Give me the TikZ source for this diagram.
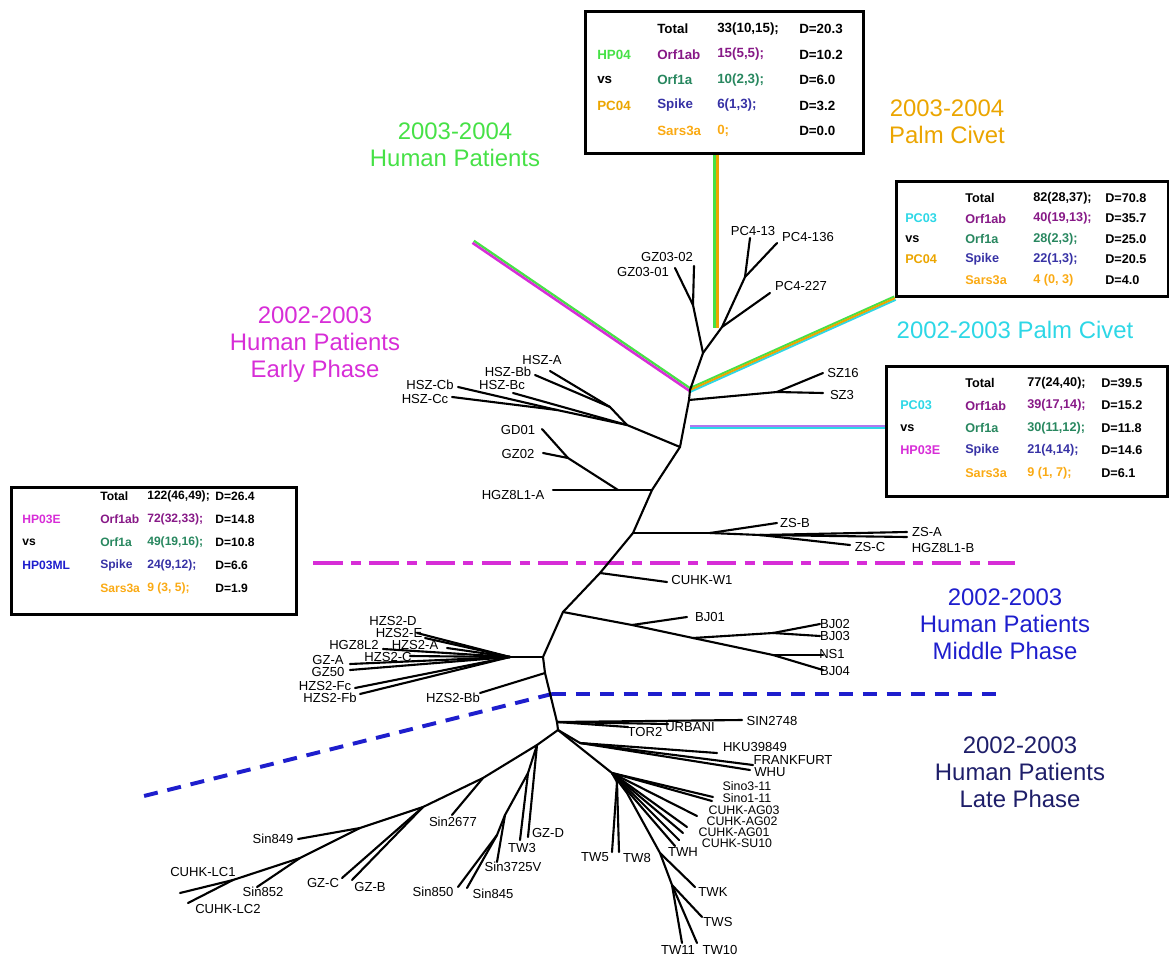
\documentclass[tikz,border=0pt]{standalone}
\usepackage{fontspec}
\setmainfont{Liberation Sans}
\usetikzlibrary{calc}

\definecolor{hpgreen}{RGB}{70,225,70}
\definecolor{pcorange}{RGB}{235,165,0}
\definecolor{pccyan}{RGB}{45,215,230}
\definecolor{earlymag}{RGB}{215,45,215}
\definecolor{midblue}{RGB}{30,30,205}
\definecolor{latenavy}{RGB}{30,30,105}
\definecolor{orfpurple}{RGB}{135,25,135}
\definecolor{orfteal}{RGB}{40,135,95}
\definecolor{spikeblue}{RGB}{55,50,165}
\definecolor{sarsorange}{RGB}{250,170,20}
\definecolor{lavender}{RGB}{175,120,240}
\colorlet{row0}{black}
\colorlet{row1}{orfpurple}
\colorlet{row2}{orfteal}
\colorlet{row3}{spikeblue}
\colorlet{row4}{sarsorange}

\tikzset{
  branch/.style={line width=1.5pt, line cap=round, line join=round},
  leaf/.style={font=\fontsize{9.3}{10}\selectfont, inner sep=0pt},
  tabbox/.style={draw, line width=2.2pt, anchor=north west, inner sep=0pt},
  cell/.style={anchor=west, inner sep=0pt, font=\bfseries\fontsize{9}{10}\selectfont},
  region/.style={align=center, font=\fontsize{17}{19.2}\selectfont},
}

\begin{document}
\begin{tikzpicture}[x=0.025cm, y=-0.025cm]
\useasboundingbox (0,0) rectangle (1169,958);

% comparison tables
\node[tabbox, minimum width=6.95cm, minimum height=3.55cm] (tabTop) at (584,10) {};
\node[tabbox, minimum width=6.8cm, minimum height=2.875cm] (tabPC) at (895,180) {};
\node[tabbox, minimum width=7.025cm, minimum height=3.25cm] (tabHP) at (885,365) {};
\node[tabbox, minimum width=7.125cm, minimum height=3.175cm] (tabML) at (10,486) {};

\begin{scope}[shift={(584,10)}, cell/.append style={font=\bfseries\fontsize{9.5}{10}\selectfont}]
\foreach \lab/\lc/\gene/\val/\dv [count=\i from 0] in {
  {}/black/Total/{33(10,15);}/20.3,
  HP04/hpgreen/Orf1ab/{15(5,5);}/10.2,
  vs/black/Orf1a/{10(2,3);}/6.0,
  PC04/pcorange/Spike/{6(1,3);}/3.2,
  {}/black/Sars3a/{0;}/0.0}{
  \node[cell, text=\lc] (tA\i) at (13,{19+25.5*\i}) {\lab};
  \node[cell, text=row\i] (tB\i) at (73,{19+25.5*\i}) {\gene};
  \node[cell, text=row\i] (tC\i) at (133,{19+25.5*\i}) {\val};
  \node[cell] (tD\i) at (215,{19+25.5*\i}) {D=\dv};
}
\end{scope}

\begin{scope}[shift={(895,180)}]
\foreach \lab/\lc/\gene/\val/\dv [count=\i from 0] in {
  {}/black/Total/{82(28,37);}/70.8,
  PC03/pccyan/Orf1ab/{40(19,13);}/35.7,
  vs/black/Orf1a/{28(2,3);}/25.0,
  PC04/pcorange/Spike/{22(1,3);}/20.5,
  {}/black/Sars3a/{4 (0, 3)}/4.0}{
  \node[cell, text=\lc] (pA\i) at (10,{18+20.5*\i}) {\lab};
  \node[cell, text=row\i] (pB\i) at (70,{18+20.5*\i}) {\gene};
  \node[cell, text=row\i] (pC\i) at (138,{18+20.5*\i}) {\val};
  \node[cell] (pD\i) at (210,{18+20.5*\i}) {D=\dv};
}
\end{scope}

\begin{scope}[shift={(885,365)}]
\foreach \lab/\lc/\gene/\val/\dv [count=\i from 0] in {
  {}/black/Total/{77(24,40);}/39.5,
  PC03/pccyan/Orf1ab/{39(17,14);}/15.2,
  vs/black/Orf1a/{30(11,12);}/11.8,
  HP03E/earlymag/Spike/{21(4,14);}/14.6,
  {}/black/Sars3a/{9 (1, 7);}/6.1}{
  \node[cell, text=\lc] (hA\i) at (15,{18+22.5*\i}) {\lab};
  \node[cell, text=row\i] (hB\i) at (80,{18+22.5*\i}) {\gene};
  \node[cell, text=row\i] (hC\i) at (142,{18+22.5*\i}) {\val};
  \node[cell] (hD\i) at (216,{18+22.5*\i}) {D=\dv};
}
\end{scope}

\begin{scope}[shift={(10,486)}, cell/.append style={font=\bfseries\fontsize{8.6}{10}\selectfont}]
\foreach \lab/\lc/\gene/\val/\dv [count=\i from 0] in {
  {}/black/Total/{122(46,49);}/26.4,
  HP03E/earlymag/Orf1ab/{72(32,33);}/14.8,
  vs/black/Orf1a/{49(19,16);}/10.8,
  HP03ML/midblue/Spike/{24(9,12);}/6.6,
  {}/black/Sars3a/{9 (3, 5);}/1.9}{
  \node[cell, text=\lc] (mA\i) at (12,{10+23*\i}) {\lab};
  \node[cell, text=row\i] (mB\i) at (90,{10+23*\i}) {\gene};
  \node[cell, text=row\i] (mC\i) at (137,{10+23*\i}) {\val};
  \node[cell] (mD\i) at (205,{10+23*\i}) {D=\dv};
}
\end{scope}

% group labels
\node[region, text=hpgreen] (lbHP04) at (455,145) {2003-2004\\Human Patients};
\node[region, text=pcorange] (lbPC04) at (947,122) {2003-2004\\Palm Civet};
\node[region, text=earlymag] (lbEarly) at (315,345) {2002-2003\\Human Patients\\Early Phase};
\node[region, text=pccyan] (lbPC03) at (1015,330) {2002-2003 Palm Civet};
\node[region, text=midblue] (lbMid) at (1005,624) {2002-2003\\Human Patients\\Middle Phase};
\node[region, text=latenavy] (lbLate) at (1020,772) {2002-2003\\Human Patients\\Late Phase};

% tree points
\foreach \n/\x/\y in {u1/703/353, r1/690/390, s0/689/400, gz/693/305, pc/722/327, pcn/745/277,
  sz/777/392, b1/680/447, hsz/627/425, hsa/610/407, hsc/557/410, b2/652/490, g1/618/490,
  g2/568/458, b3/633/533, z1/710/533, z2/760/535, b4/600/573, b5/563/612, j1/632/625,
  j2/693/638, j3/773/633, j4/773/655, b6/543/657, h0/510/657, b7/545/673, b8/557/722,
  b9/558/730, k1/580/743, t0/612/773, t1/617/782, t2/627/793, t3/660/853, t4/672/885,
  l0/537/745, l1/483/778, l2/423/807, l3/360/828, l4/300/858, l5/233/880, m1/528/773,
  m2/505/815, m3/497/835}
  \coordinate (\n) at (\x,\y);
\foreach \n/\x/\y in {eGZa/694/266, eGZb/675/268, ePCa/750/238, ePCb/777/243, ePCc/770/293,
  eSZa/823/373, eSZb/823/393, eHSa/550/371, eHSb/535/375, eHSc/513/393, eHSd/458/387,
  eHSe/452/397, eGD/542/429, eGZ02/543/453, eHGa/553/490, eZSb/777/523, eZSc/850/545,
  eZSa/907/532, eHGb/907/537, eW1/667/582, eBJa/687/617, eBJb/820/624, eBJc/820/636,
  eNS/823/655, eBJd/823/670, eHa/417/633, eHb/425/638, eHc/447/648, eHd/383/649,
  eHe/410/656, eHf/350/664, eHg/350/670, eHh/355/688, eHi/360/694, eBb/480/693,
  eSIN/742/720, eTOR/628/727, eURB/668/724, eHKU/717/753, eFRA/753/765, eWHU/750/770,
  eSa/713/797, eSb/712/801, eAGc/697/816, eAGb/687/827, eAGa/683/833, eSU/679/840,
  eTWH/675/846, eTW5/612/852, eTW8/619/852, eTWK/695/887, eTWS/702/917, eTW11/682/943,
  eTW10/697/943, eGZD/528/837, eTW3/520/840, eS37/497/862, eS850/458/887, eS845/467/888,
  eS26/452/815, eGZC/342/878, eGZB/352/880, eS849/298/839, eS852/257/887, eLC1/180/893,
  eLC2/188/903}
  \coordinate (\n) at (\x,\y);
\coordinate (ee) at (473,242);
\coordinate (vt) at (716,328);
\coordinate (vtop) at (tabTop.south -| vt);
\coordinate (lv) at (690,427);
\coordinate (mdl) at (313,563);
\coordinate (mdr) at (1015,563);
\coordinate (bdl) at (552,694);
\coordinate (bdr) at (1005,694);
\coordinate (bds) at (140,797);

% coloured group lines
\draw[hpgreen, line width=1.8pt] ([xshift=-1pt]vtop) -- ([xshift=-1pt]vt);
\draw[pcorange, line width=1.8pt] ([xshift=1pt]vtop) -- ([xshift=1pt]vt);
\draw[hpgreen, line width=1.6pt] ([shift={(0.6pt,0.9pt)}]ee) -- ([shift={(0.6pt,0.9pt)}]r1);
\draw[earlymag, line width=1.8pt] ([shift={(-0.4pt,-0.6pt)}]ee) -- ([shift={(-0.4pt,-0.6pt)}]r1);
\draw[hpgreen, line width=1.4pt] ([shift={(-0.5pt,1.2pt)}]r1) -- ([shift={(-0.5pt,1.2pt)}]tabPC.south west);
\draw[pccyan, line width=1.4pt] ([shift={(0.5pt,-1.2pt)}]r1) -- ([shift={(0.5pt,-1.2pt)}]tabPC.south west);
\draw[pcorange, line width=1.4pt] (r1) -- (tabPC.south west);
\draw[pccyan, line width=1.4pt] ([yshift=-1pt]lv) -- ([yshift=-1pt]lv -| tabHP.west);
\draw[lavender, line width=1.8pt] ([yshift=0.6pt]lv) -- ([yshift=0.6pt]lv -| tabHP.west);
\draw[earlymag, line width=2.8pt, dash pattern=on 21pt off 6pt on 7pt off 6pt] (mdl) -- (mdr);
\draw[midblue, line width=2.8pt, dash pattern=on 10pt off 7pt] (bdl) -- (bdr);
\draw[midblue, line width=2.8pt, dash pattern=on 10pt off 7pt] (bdl) -- (bds);

% tree
\draw[branch] (u1) -- (r1) -- (s0) -- (b1) -- (b2) -- (b3) -- (b4) -- (b5) -- (b6) -- (b7) -- (b8) -- (b9);
\foreach \a/\b in {u1/gz, gz/eGZa, gz/eGZb, u1/pc, pc/ePCc, pc/pcn, pcn/ePCa, pcn/ePCb,
  s0/sz, sz/eSZa, sz/eSZb, b1/hsz, hsz/hsa, hsa/eHSa, hsa/eHSb, hsz/eHSc, hsz/hsc, hsc/eHSd,
  hsc/eHSe, b2/g1, g1/eHGa, g1/g2, g2/eGD, g2/eGZ02, b3/z1, z1/eZSb, z1/z2, z2/eZSc, z2/eZSa,
  z2/eHGb, b4/eW1, b5/j1, j1/eBJa, j1/j2, j2/j3, j3/eBJb, j3/eBJc, j2/j4, j4/eNS, j4/eBJd,
  b6/h0, h0/eHa, h0/eHb, h0/eHc, h0/eHd, h0/eHe, h0/eHf, h0/eHg, h0/eHh, h0/eHi, b7/eBb,
  b8/eSIN, b8/eTOR, b8/eURB, b9/k1, k1/eHKU, k1/eFRA, k1/eWHU, b9/t0, t0/eSa, t0/eSb,
  t0/eAGc, t0/eAGb, t0/eAGa, t0/eSU, t0/eTWH, t0/t1, t1/eTW5, t1/eTW8, t0/t2, t2/t3,
  t3/eTWK, t3/t4, t4/eTWS, t4/eTW11, t4/eTW10, b9/l0, l0/eGZD, l0/m1, m1/eTW3, m1/m2,
  m2/eS37, m2/m3, m3/eS850, m3/eS845, l0/l1, l1/eS26, l1/l2, l2/eGZC, l2/eGZB, l2/l3,
  l3/eS849, l3/l4, l4/eS852, l4/l5, l5/eLC1, l5/eLC2}
  \draw[branch] (\a) -- (\b);

% isolate names
\foreach \t/\x/\y in {GZ03-02/667/257, GZ03-01/643/272, PC4-13/753/231, PC4-136/808/237,
  PC4-227/801/286, SZ16/843/373, SZ3/842/395, HSZ-A/542/360, HSZ-Bb/508/372, HSZ-Bc/502/385,
  HSZ-Cb/430/385, HSZ-Cc/425/399, GD01/518/430, GZ02/518/454, HGZ8L1-A/513/495,
  ZS-B/795/523, ZS-C/870/547, ZS-A/927/532, HGZ8L1-B/943/548, CUHK-W1/702/580,
  BJ01/710/617, BJ02/835/624, BJ03/835/636, NS1/832/654, BJ04/835/671, HZS2-D/393/621,
  HZS2-E/399/633, HGZ8L2/354/645, HZS2-A/415/645, HZS2-C/388/657, GZ-A/328/660,
  GZ50/328/672, HZS2-Fc/325/686, HZS2-Fb/330/698, HZS2-Bb/453/698, SIN2748/772/721,
  TOR2/645/732, URBANI/690/727, HKU39849/755/747, FRANKFURT/793/760, WHU/770/772,
  TWH/683/852, TW5/595/857, TW8/637/858,
  TWK/713/892, TWS/718/922, TW11/678/950, TW10/720/950, GZ-D/548/833, TW3/522/848,
  Sin3725V/513/867, Sin850/433/892, Sin845/493/894, Sin2677/453/822, Sin849/273/839,
  GZ-C/323/883, GZ-B/370/887, CUHK-LC1/203/872, Sin852/263/892, CUHK-LC2/228/909}
  \node[leaf] (n\t) at (\x,\y) {\t};
\foreach \t/\x/\y in {Sino3-11/747/786, Sino1-11/747/798, CUHK-AG03/744/810,
  CUHK-AG02/742/821, CUHK-AG01/734/832, CUHK-SU10/737/843}
  \node[leaf, font=\fontsize{8.8}{9}\selectfont] (n\t) at (\x,\y) {\t};
\end{tikzpicture}
\end{document}
